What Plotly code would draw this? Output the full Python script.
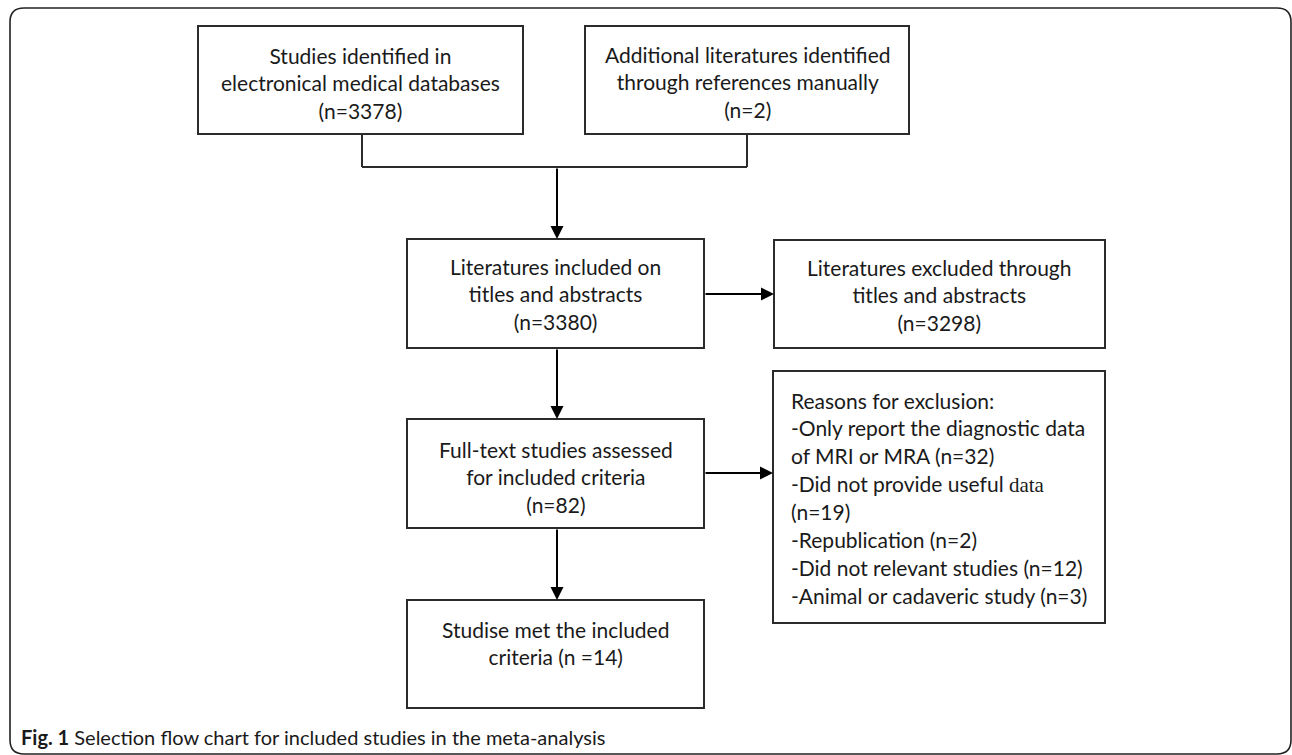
import plotly.graph_objects as go

W, H = 1292, 755

# Box contents (text lines) and counts
box_labels = [
    "Studies identified in<br>electronical medical databases<br>(n=3378)",
    "Additional literatures identified<br>through references manually<br>(n=2)",
    "Literatures included on<br>titles and abstracts<br>(n=3380)",
    "Literatures excluded through<br>titles and abstracts<br>(n=3298)",
    "Full-text studies assessed<br>for included criteria<br>(n=82)",
    "Studise met the included<br>criteria (n =14)",
]
exclusion_lines = [
    "Reasons for exclusion:",
    "-Only report the diagnostic data",
    "of MRI or MRA (n=32)",
    "-Did not provide useful <span style=\"font-family:'Liberation Serif'\">data</span>",
    "(n=19)",
    "-Republication (n=2)",
    "-Did not relevant studies (n=12)",
    "-Animal or cadaveric study (n=3)",
]
caption_bold = "Fig. 1"
caption_text = "Selection flow chart for included studies in the meta-analysis"

# Layout geometry (pixels)
boxes = [  # x0, y0, x1, y1, text y-center
    (198, 26, 523, 134, 83),
    (585, 26, 909, 134, 82),
    (407, 239, 704, 348, 294),
    (774, 240, 1105, 348, 295),
    (407, 419, 704, 528, 477),
    (407, 600, 704, 708, 643),
]
reason_box = (773, 371, 1105, 623)

LC = "#2b2b2b"
FONT = "Lato"
fig = go.Figure()

shapes = []
# outer rounded border
r = 14
x0, y0, x1, y1 = 10, 8, 1291, 754
path = (f"M {x0+r},{y0} L {x1-r},{y0} Q {x1},{y0} {x1},{y0+r} "
        f"L {x1},{y1-r} Q {x1},{y1} {x1-r},{y1} L {x0+r},{y1} "
        f"Q {x0},{y1} {x0},{y1-r} L {x0},{y0+r} Q {x0},{y0} {x0+r},{y0} Z")
shapes.append(dict(type="path", path=path, xref="x", yref="y",
                   line=dict(color="#222", width=1.6)))

for (bx0, by0, bx1, by1, _) in boxes + [reason_box + (0,)]:
    shapes.append(dict(type="rect", x0=bx0, y0=by0, x1=bx1, y1=by1, xref="x", yref="y",
                       line=dict(color=LC, width=2)))

# merge connector
for seg in [((362, 134), (362, 167)), ((747, 134), (747, 167)), ((362, 167), (747, 167))]:
    shapes.append(dict(type="line", x0=seg[0][0], y0=seg[0][1], x1=seg[1][0], y1=seg[1][1],
                       xref="x", yref="y", line=dict(color=LC, width=2)))

annotations = []
# arrows
arrows = [((557, 167), (557, 239)), ((704, 294), (774, 294)),
          ((557, 348), (557, 419)), ((704, 473), (773, 473)), ((557, 528), (557, 600))]
for (sx, sy), (ex, ey) in arrows:
    annotations.append(dict(x=ex, y=ey, ax=sx, ay=sy, xref="x", yref="y", axref="x", ayref="y",
                            showarrow=True, arrowhead=2, arrowsize=1.3, arrowwidth=2,
                            arrowcolor="#000", text=""))

for (bx0, by0, bx1, by1, ty), lab in zip(boxes, box_labels):
    annotations.append(dict(x=(bx0 + bx1) / 2, y=ty, xref="x", yref="y", text=lab,
                            showarrow=False, align="center", xanchor="center", yanchor="middle",
                            font=dict(family=FONT, size=21, color="#1a1a1a")))

for i, line in enumerate(exclusion_lines):
    annotations.append(dict(x=789, y=400 + i * 27.9, xref="x", yref="y", text=line,
                            showarrow=False, align="left", xanchor="left", yanchor="middle",
                            font=dict(family=FONT, size=21, color="#1a1a1a")))

annotations.append(dict(x=19, y=737, xref="x", yref="y",
                        text=f"<b>{caption_bold}</b> {caption_text}",
                        showarrow=False, xanchor="left", yanchor="middle", align="left",
                        font=dict(family=FONT, size=20, color="#1a1a1a")))

fig.update_layout(
    width=W, height=H, margin=dict(l=0, r=0, t=0, b=0),
    paper_bgcolor="white", plot_bgcolor="white",
    xaxis=dict(range=[0, W], visible=False, fixedrange=True),
    yaxis=dict(range=[H, 0], visible=False, fixedrange=True),
    shapes=shapes, annotations=annotations, showlegend=False,
)
fig.write_html("out.html", config={"displayModeBar": False},
               post_script="document.body.style.margin='0px';document.body.style.overflow='hidden';")
